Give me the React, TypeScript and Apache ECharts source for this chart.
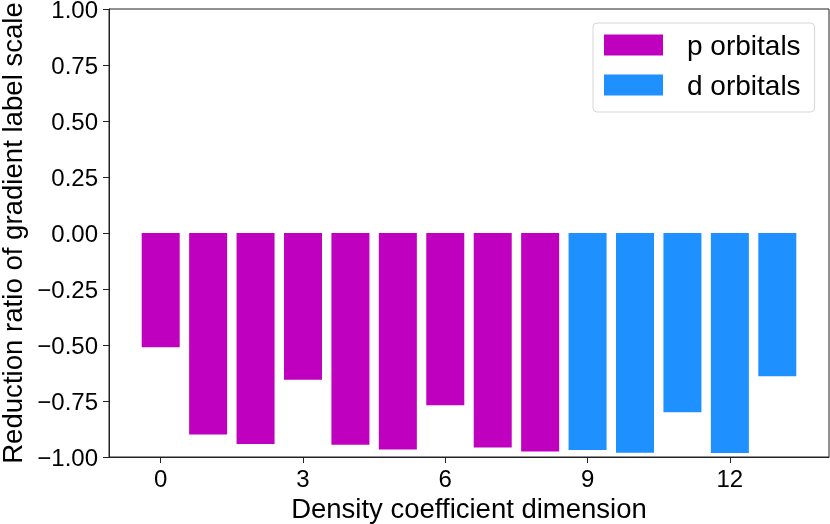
import React, { useEffect, useRef } from "react";
import * as echarts from "echarts";

const pX = [0, 1, 2, 3, 4, 5, 6, 7, 8];
const pValues = [-0.51, -0.9, -0.942, -0.655, -0.945, -0.966, -0.769, -0.958, -0.976];
const dX = [9, 10, 11, 12, 13];
const dValues = [-0.969, -0.981, -0.8, -0.982, -0.64];
const xTicks = [0, 3, 6, 9, 12];
const seriesNames = ["p orbitals", "d orbitals"];

const FONT = "'Liberation Sans', Arial, Helvetica, sans-serif";

export default function App() {
  const ref = useRef<HTMLDivElement>(null);
  useEffect(() => {
    if (!ref.current) return;
    const chart = echarts.init(ref.current, null, { renderer: "svg" });
    const fmtY = (v: number) =>
      v < 0 ? "\u2212" + Math.abs(v).toFixed(2) : v.toFixed(2);
    chart.setOption({
      animation: false,
      textStyle: { fontFamily: FONT },
      grid: {
        left: 109,
        right: 1,
        top: 9,
        bottom: 67,
        containLabel: false,
        outerBoundsMode: "none",
        show: true,
        borderColor: "#222",
        borderWidth: 1,
        backgroundColor: "transparent",
      },
      legend: {
        orient: "vertical",
        left: 593,
        top: 23,
        padding: [8, 14, 13, 11],
        itemWidth: 59,
        itemHeight: 21,
        itemGap: 12,
        icon: "rect",
        backgroundColor: "rgba(255,255,255,0.8)",
        borderColor: "#d6d6d6",
        borderWidth: 1,
        borderRadius: 4,
        textStyle: {
          fontFamily: FONT,
          fontSize: 28,
          color: "#000",
          lineHeight: 21,
          padding: [0, 0, 0, 19],
        },
        data: seriesNames,
      },
      xAxis: {
        type: "value",
        min: -1.09,
        max: 14.09,
        name: "Density coefficient dimension",
        nameLocation: "middle",
        nameGap: 31,
        nameTextStyle: { fontFamily: FONT, fontSize: 27.5, color: "#000" },
        axisLine: { show: true, onZero: false, lineStyle: { color: "#222", width: 1 } },
        axisTick: {
          show: true,
          length: 6,
          customValues: xTicks,
          lineStyle: { color: "#222", width: 1 },
        },
        axisLabel: {
          customValues: xTicks,
          margin: 9,
          fontFamily: FONT,
          fontSize: 24,
          color: "#000",
        },
        splitLine: { show: false },
      },
      yAxis: {
        type: "value",
        min: -1,
        max: 1,
        interval: 0.25,
        name: "Reduction ratio of gradient label scale",
        nameLocation: "middle",
        nameGap: 74,
        nameRotate: 90,
        nameTextStyle: { fontFamily: FONT, fontSize: 27.6, color: "#000" },
        axisLine: { show: true, onZero: false, lineStyle: { color: "#222", width: 1 } },
        axisTick: { show: true, length: 6, lineStyle: { color: "#222", width: 1 } },
        axisLabel: {
          margin: 11,
          fontFamily: FONT,
          fontSize: 24,
          color: "#000",
          formatter: fmtY,
        },
        splitLine: { show: false },
      },
      series: [
        {
          name: seriesNames[0],
          type: "bar",
          barWidth: 38,
          barGap: "-100%",
          itemStyle: { color: "#bf00bf" },
          data: pX.map((x, i) => [x, pValues[i]]),
        },
        {
          name: seriesNames[1],
          type: "bar",
          barWidth: 38,
          barGap: "-100%",
          itemStyle: { color: "#1e90ff" },
          data: dX.map((x, i) => [x, dValues[i]]),
        },
      ],
    });
    return () => chart.dispose();
  }, []);
  return (
    <div
      ref={ref}
      style={{ position: "fixed", left: 0, top: 0, width: 830, height: 524 }}
    />
  );
}
